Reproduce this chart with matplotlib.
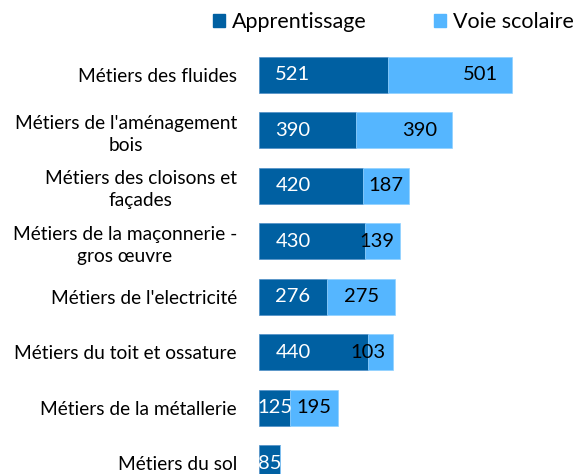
import numpy as np
import matplotlib
matplotlib.use("Agg")
import matplotlib.pyplot as plt
from matplotlib.patches import Patch

plt.rcParams['font.family'] = ['Lato', 'DejaVu Sans']

categories = ["Métiers des fluides",
              "Métiers de l'aménagement\nbois",
              "Métiers des cloisons et\nfaçades",
              "Métiers de la maçonnerie -\ngros œuvre",
              "Métiers de l'electricité",
              "Métiers du toit et ossature",
              "Métiers de la métallerie",
              "Métiers du sol"]
apprentissage = [521, 390, 420, 430, 276, 440, 125, 85]
voie_scolaire = [501, 390, 187, 139, 275, 103, 195, 0]

dark = '#0060A2'
light = '#55B6FF'

fig = plt.figure(figsize=(5.77, 4.74), dpi=100)
ax = fig.add_axes([259 / 577, 0, 1 - 259 / 577, (474 - 40) / 474])

y = np.arange(len(categories))
ax.barh(y, apprentissage, height=0.65, color=dark, edgecolor='#4f8fc7', linewidth=0.5)
ax.barh(y, voie_scolaire, left=apprentissage, height=0.65, color=light,
        edgecolor='#8fd0ff', linewidth=0.5)

ax.set_xlim(0, 1284)
ax.set_ylim(7.19, -0.63)
ax.set_yticks(y)
ax.set_yticklabels(categories, multialignment='center', fontsize=13.8,
                   linespacing=1.35)
ax.tick_params(axis='y', length=0, pad=16)
ax.set_xticks([])
for s in ax.spines.values():
    s.set_visible(False)

# small manual shifts for a few labels of the second series
nudge = {0: 121, 1: 65, 3: -24, 5: -52}
for i, (a, v) in enumerate(zip(apprentissage, voie_scolaire)):
    ax.text(min(a / 2, 137), i, str(a), ha='center', va='center',
            color='white', fontsize=14.5)
    if v:
        ax.text(a + v / 2 + nudge.get(i, 0), i, str(v), ha='center', va='center',
                color='black', fontsize=14.5)

handles = [Patch(color=dark), Patch(color=light)]
fig.legend(handles, ['Apprentissage', 'Voie scolaire'], loc='center left',
           bbox_to_anchor=(213 / 577, 1 - 22 / 474), ncol=2, frameon=False,
           fontsize=15.5, handlelength=0.55, handleheight=0.55, handletextpad=0.35,
           columnspacing=3.1, borderpad=0, borderaxespad=0)

fig.savefig('out.png', dpi=100)
